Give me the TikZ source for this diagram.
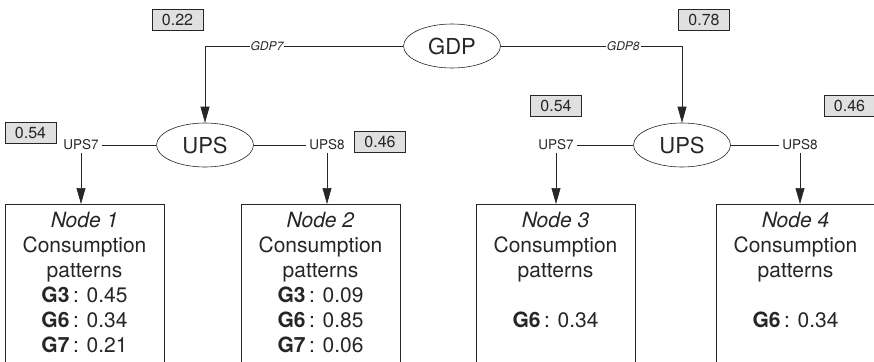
\documentclass[tikz,border=0pt]{standalone}
\usepackage{fontspec}
\setmainfont{TeX Gyre Heros}
\usetikzlibrary{arrows.meta,shapes.geometric}
\begin{document}
\begin{tikzpicture}[x=1pt,y=-1pt,
  line width=0.6pt, color=black!85,
  oval/.style={draw, ellipse, minimum width=97pt, minimum height=44pt, inner sep=0pt, font=\fontsize{22}{26}\selectfont},
  val/.style={draw, fill=black!12, minimum width=51pt, minimum height=21pt, inner sep=0pt, font=\fontsize{16}{19}\selectfont},
  lab/.style={font=\fontsize{13.5}{16}\selectfont, inner sep=3pt},
  elab/.style={font=\fontsize{12}{14}\selectfont\itshape, fill=white, inner sep=1pt},
  leaf/.style={draw, anchor=north west, minimum width=159pt, minimum height=170pt, inner sep=0pt},
  leaftext/.style={anchor=north, align=center, font=\fontsize{21}{25}\selectfont, inner sep=0pt},
  arr/.style={-{Triangle[length=16pt,width=9pt]}}
]
\useasboundingbox (0,0) rectangle (874,361);
\clip (0,0) rectangle (874,361);

% ellipses
\node[oval] (gdp) at (452,46) {GDP};
\node[oval] (upsL) at (205,145) {UPS};
\node[oval] (upsR) at (682,145) {UPS};

% value boxes
\node[val] (v22) at (177.5,19.5) {0.22};
\node[val] (v78) at (704,19.5) {0.78};
\node[val] (v54a) at (30.5,133) {0.54};
\node[val] (v46a) at (380,141.5) {0.46};
\node[val] (v54b) at (556,106) {0.54};
\node[val] (v46b) at (849.5,106) {0.46};

% branch labels
\node[lab] (l7a) at (81,145) {UPS7};
\node[lab] (l8a) at (327,145) {UPS8};
\node[lab] (l7b) at (556,145) {UPS7};
\node[lab] (l8b) at (800,145) {UPS8};

% leaf boxes
\node[leaf] (n1) at (5,204) {};
\node[leaf] (n2) at (241,204) {};
\node[leaf] (n3) at (476,204) {};
\node[leaf] (n4) at (716,204) {};

\node[leaftext] (t1) at (84.5,212) {\textit{Node 1}\\Consumption\\patterns\\\textbf{G3}\,: 0.45\\\textbf{G6}\,: 0.34\\\textbf{G7}\,: 0.21};
\node[leaftext] (t2) at (320.5,212) {\textit{Node 2}\\Consumption\\patterns\\\textbf{G3}\,: 0.09\\\textbf{G6}\,: 0.85\\\textbf{G7}\,: 0.06};
\node[leaftext] (t3) at (555.5,212) {\textit{Node 3}\\Consumption\\patterns\\\mbox{}\\\textbf{G6}\,: 0.34};
\node[leaftext] (t4) at (795.5,212) {\textit{Node 4}\\Consumption\\patterns\\\mbox{}\\\textbf{G6}\,: 0.34};

% connectors
\draw[arr] (gdp) -| node[elab, pos=0.344] (e7) {GDP7} (upsL);
\draw[arr] (gdp) -| node[elab, pos=0.338] (e8) {GDP8} (upsR);

\draw (l7a) -- (upsL);
\draw (upsL) -- (l8a);
\draw (l7b) -- (upsR);
\draw (upsR) -- (l8b);

\draw[arr] (l7a.south) -- (l7a.south |- n1.north);
\draw[arr] (l8a.south) -- (l8a.south |- n2.north);
\draw[arr] (l7b.south) -- (l7b.south |- n3.north);
\draw[arr] (l8b.south) -- (l8b.south |- n4.north);
\end{tikzpicture}
\end{document}
